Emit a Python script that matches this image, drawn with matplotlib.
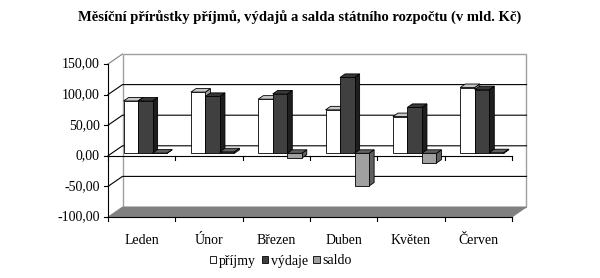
import matplotlib
matplotlib.use("Agg")
import matplotlib.pyplot as plt
from matplotlib.patches import Polygon, Patch

months = ['Leden', 'Únor', 'Březen', 'Duben', 'Květen', 'Červen']
prijmy = [85.5, 100.0, 88.5, 71.0, 60.0, 107.5]
vydaje = [85.5, 93.0, 97.0, 124.0, 75.0, 104.0]
saldo = [0.3, 2.5, -8.0, -53.5, -16.0, 1.0]
series_names = ['příjmy', 'výdaje', 'saldo']
yticks = [-100, -50, 0, 50, 100, 150]
ytick_labels = ['-100,00', '-50,00', '0,00', '50,00', '100,00', '150,00']
title = 'Měsíční přírůstky příjmů, výdajů a salda státního rozpočtu (v mld. Kč)'

SERIF = ['Liberation Serif', 'DejaVu Serif']
plt.rcParams['font.family'] = SERIF

fig = plt.figure(figsize=(6.0, 2.78), dpi=100)
ax = fig.add_axes([108 / 600, 1 - 217 / 278, 404 / 600, 153 / 278])
YMIN, YMAX = -100, 150
XMIN, XMAX = -0.5, len(months) - 0.5
ax.set_xlim(XMIN, XMAX)
ax.set_ylim(YMIN, YMAX)
ax.axis('off')

# depth offsets (data units)
pxx = 404 / 6.0
pxy = 153 / 250.0
DX = 14.5 / pxx
DY = 10.0 / pxy


def P(x, y, d):
    return (x + d * DX, y + d * DY)


def poly(pts, fc, ec='black', lw=0.6, z=1):
    ax.add_patch(Polygon(pts, closed=True, facecolor=fc, edgecolor=ec,
                         linewidth=lw, clip_on=False, zorder=z, joinstyle='miter'))


# back wall
poly([P(XMIN, YMIN, 1), P(XMAX, YMIN, 1), P(XMAX, YMAX, 1), P(XMIN, YMAX, 1)],
     'white', ec='#a0a0a0', lw=1.0, z=1)
# gridlines on back wall and left wall
for v in [-50, 0, 50, 100]:
    xs = [P(XMIN, v, 0)[0], P(XMIN, v, 1)[0], P(XMAX, v, 1)[0]]
    ys = [P(XMIN, v, 0)[1], P(XMIN, v, 1)[1], P(XMAX, v, 1)[1]]
    ax.plot(xs, ys, color='black', lw=0.8, clip_on=False, zorder=2)
ax.plot([P(XMIN, YMAX, 0)[0], P(XMIN, YMAX, 1)[0]],
        [P(XMIN, YMAX, 0)[1], P(XMIN, YMAX, 1)[1]], color='#808080', lw=0.8,
        clip_on=False, zorder=2)

# floor
poly([P(XMIN, YMIN, 0), P(XMAX, YMIN, 0), P(XMAX, YMIN, 1), P(XMIN, YMIN, 1)],
     '#808080', ec='#808080', lw=0.6, z=3)

# front axes lines
ax.plot([XMIN, XMIN], [YMIN, YMAX], color='black', lw=0.8, clip_on=False, zorder=4)
ax.plot([XMIN, XMAX], [0, 0], color='black', lw=0.8, clip_on=False, zorder=4)
ax.plot([XMIN, XMAX], [YMIN, YMIN], color='black', lw=0.8, clip_on=False, zorder=4)
tick_dy = 4 / pxy
tick_dx = 4 / pxx
for k in range(len(months) + 1):
    xb = XMIN + k
    for base in (0, YMIN):
        ax.plot([xb, xb], [base, base - tick_dy], color='black', lw=0.8,
                clip_on=False, zorder=4)
for v, lab in zip(yticks, ytick_labels):
    ax.plot([XMIN - tick_dx, XMIN], [v, v], color='black', lw=0.8, clip_on=False, zorder=4)
    ax.text(XMIN - 8 / pxx, v, lab, ha='right', va='center', fontsize=10,
            family=SERIF)

for i, m in enumerate(months):
    ax.text(i, YMIN - 24 / pxy, m, ha='center', va='center', fontsize=10, family=SERIF)

# bars
D0, D1 = 0.25, 0.6
W = 14.5 / pxx
colors = [
    dict(front='white', top='#c8c8c8', side='#a0a0a0'),
    dict(front='#404040', top='#383838', side='#1e1e1e'),
    dict(front='#a0a0a0', top='#606060', side='#606060'),
]
z = 10
for i in range(len(months)):
    vals = [prijmy[i], vydaje[i], saldo[i]]
    for j, v in enumerate(vals):
        x0 = i - 1.5 * W + j * W
        x1 = x0 + W
        lo, hi = min(0, v), max(0, v)
        c = colors[j]
        # side
        poly([P(x1, lo, D0), P(x1, lo, D1), P(x1, hi, D1), P(x1, hi, D0)], c['side'], z=z)
        # top
        poly([P(x0, hi, D0), P(x1, hi, D0), P(x1, hi, D1), P(x0, hi, D1)], c['top'], z=z)
        # front
        poly([P(x0, lo, D0), P(x1, lo, D0), P(x1, hi, D0), P(x0, hi, D0)], c['front'], z=z)
        z += 1

fig.text(0.5, 1 - 18 / 278, title, ha='center', va='center', fontsize=10.5,
         fontweight='bold', family=SERIF)

handles = [Patch(facecolor=colors[k]['front'], edgecolor='black', linewidth=0.6)
           for k in range(3)]
fig.legend(handles, series_names, loc='center', bbox_to_anchor=(281 / 600, 1 - 261 / 278),
           ncol=3, frameon=False, fontsize=10, handlelength=0.45, handleheight=0.45,
           handletextpad=0.2, columnspacing=0.4, borderpad=0.0)

fig.savefig('out.png', dpi=100)
